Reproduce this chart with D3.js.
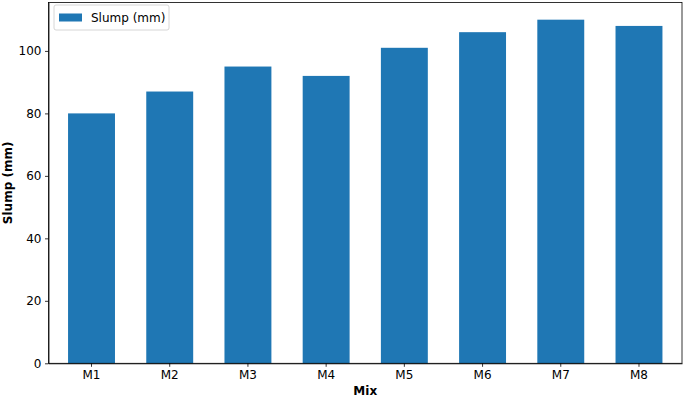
<!DOCTYPE html>
<meta charset="utf-8">
<style>
body { margin: 0; background: #fff; }
svg { font-family: "DejaVu Sans", sans-serif; }
.axis text { font-size: 12px; fill: #000; font-family: "DejaVu Sans", sans-serif; }
.axis path, .axis line { stroke: #000; stroke-width: 0.8; }
</style>
<body>
<script src="https://d3js.org/d3.v7.min.js"></script>
<script>
var mixes = ["M1", "M2", "M3", "M4", "M5", "M6", "M7", "M8"];
var slump = [80, 87, 95, 92, 101, 106, 110, 108];
var yTicks = [0, 20, 40, 60, 80, 100];

var W = 685, H = 398;
var margin = {top: 2.5, right: 3, bottom: 34.7, left: 48.5};
var width = W - margin.left - margin.right,
    height = H - margin.top - margin.bottom;

var svg = d3.select("body").append("svg")
    .attr("width", W)
    .attr("height", H);

var g = svg.append("g")
    .attr("transform", "translate(" + margin.left + "," + margin.top + ")");

var x = d3.scaleBand()
    .domain(mixes)
    .range([0, width])
    .paddingInner(0.4)
    .paddingOuter(0.25);

var y = d3.scaleLinear()
    .domain([0, 115.5])
    .range([height, 0]);

g.selectAll(".bar")
    .data(mixes)
  .enter().append("rect")
    .attr("class", "bar")
    .attr("x", function(d) { return x(d); })
    .attr("width", x.bandwidth())
    .attr("y", function(d, i) { return y(slump[i]); })
    .attr("height", function(d, i) { return height - y(slump[i]); })
    .attr("fill", "#1f77b4");

g.append("g")
    .attr("class", "axis")
    .attr("transform", "translate(0," + height + ")")
    .call(d3.axisBottom(x).tickSize(3.5).tickPadding(3.5).tickSizeOuter(0));

g.append("g")
    .attr("class", "axis")
    .call(d3.axisLeft(y).tickValues(yTicks).tickSize(3.5).tickPadding(3.5).tickSizeOuter(0));

// frame
g.append("rect")
    .attr("width", width)
    .attr("height", height)
    .attr("fill", "none")
    .attr("stroke", "#000")
    .attr("stroke-width", 0.8);

// axis labels
svg.append("text")
    .attr("x", margin.left + width / 2)
    .attr("y", 395)
    .attr("text-anchor", "middle")
    .attr("font-size", "12px")
    .attr("font-weight", "bold")
    .text("Mix");

svg.append("text")
    .attr("transform", "translate(12," + (margin.top + height / 2) + ") rotate(-90)")
    .attr("text-anchor", "middle")
    .attr("font-size", "12px")
    .attr("font-weight", "bold")
    .text("Slump (mm)");

// legend
var leg = svg.append("g").attr("transform", "translate(54,5)");
leg.append("rect")
    .attr("width", 115)
    .attr("height", 25)
    .attr("rx", 2)
    .attr("fill", "#fff")
    .attr("fill-opacity", 0.8)
    .attr("stroke", "#ccc")
    .attr("stroke-width", 0.8);
leg.append("rect")
    .attr("x", 5)
    .attr("y", 8.5)
    .attr("width", 23)
    .attr("height", 8)
    .attr("fill", "#1f77b4");
leg.append("text")
    .attr("x", 37)
    .attr("y", 17)
    .attr("font-size", "12px")
    .text("Slump (mm)");
</script>
</body>
